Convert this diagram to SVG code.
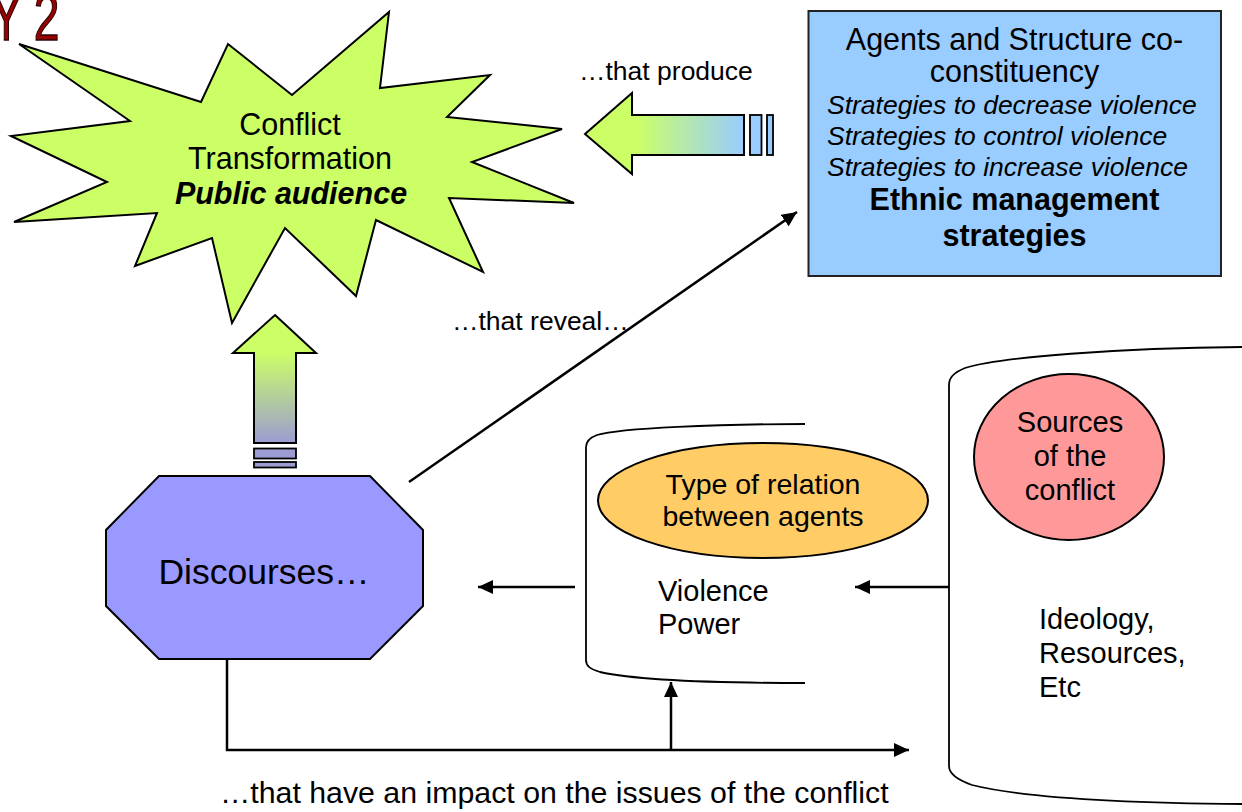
<svg xmlns="http://www.w3.org/2000/svg" width="1242" height="812" viewBox="0 0 1242 812">
<style>
  text { font-family: "Liberation Sans", Arial, sans-serif; fill: #000; }
  .shape { stroke: #000; stroke-width: 2; stroke-linejoin: miter; }
  .scroll { fill: none; stroke: #000; stroke-width: 1.8; }
  .conn { fill: none; stroke: #000; stroke-width: 2.5; }
  .t30 { font-size: 30.5px; }
  .t26 { font-size: 26.5px; }
  .t29 { font-size: 29px; }
  .mid { text-anchor: middle; }
</style>
<defs>
  <marker id="ah" viewBox="0 0 15 14" refX="15" refY="7" markerWidth="15" markerHeight="14" markerUnits="userSpaceOnUse" orient="auto">
    <path d="M0,0 L15,7 L0,14 z" fill="#000"/>
  </marker>
  <linearGradient id="gProduce" gradientUnits="userSpaceOnUse" x1="636" y1="0" x2="744" y2="0">
    <stop offset="0" stop-color="#CCFF66"/>
    <stop offset="1" stop-color="#99CCFF"/>
  </linearGradient>
  <linearGradient id="gUp" gradientUnits="userSpaceOnUse" x1="0" y1="352" x2="0" y2="443">
    <stop offset="0" stop-color="#CCFF66"/>
    <stop offset="1" stop-color="#9C9CD2"/>
  </linearGradient>
</defs>
<rect width="1242" height="812" fill="#fff"/>

<g id="title">
  <text transform="scale(0.7 1)" x="-13" y="40" style="font-size:66px;fill:#990000;stroke:#2a0000;stroke-width:1.4">Y 2</text>
</g>

<g id="conflict-transformation">
  <polygon class="shape" fill="#CCFF66" points="19,44 201,102 228,44 292,95 389,12 380,88 490,75 447,117 562,129 472,162 574,203 449,198 483,272 376,220 356,296 285,228 232,323 212,238 135,266 157,213 14,222 107,182 11,136 130,121"/>
  <text class="t30 mid" x="290" y="135">Conflict</text>
  <text class="t30 mid" x="290" y="169">Transformation</text>
  <text class="t30 mid" x="291" y="204" font-weight="bold" font-style="italic">Public audience</text>
</g>

<g id="ethnic-management">
  <rect x="808.5" y="11" width="412.5" height="265" fill="#99CCFF" stroke="#222" stroke-width="2"/>
  <text class="t30 mid" x="1014.5" y="49.5">Agents and Structure co-</text>
  <text class="t30 mid" x="1014.5" y="82">constituency</text>
  <text class="t26" x="827" y="113.5" font-style="italic">Strategies to decrease violence</text>
  <text class="t26" x="827" y="145" font-style="italic">Strategies to control violence</text>
  <text class="t26" x="827" y="176" font-style="italic">Strategies to increase violence</text>
  <text class="t30 mid" x="1014.5" y="210" font-weight="bold">Ethnic management</text>
  <text class="t30 mid" x="1014.5" y="246" font-weight="bold">strategies</text>
</g>

<g id="discourses">
  <polygon class="shape" fill="#9999FF" points="159,476 370,476 423,530 423,606 370,659 159,659 106,606 106,530"/>
  <text class="mid" x="264" y="584" style="font-size:35.5px">Discourses…</text>
</g>

<g id="relation-scroll">
  <path class="scroll" d="M805,424 C720,424 620,428 597,435 C589,438 586,442 586,447 L586,660 C586,666 590,669 600,672 C640,681 720,683 805,683"/>
  <text class="t29" x="658" y="601">Violence</text>
  <text class="t29" x="658" y="634">Power</text>
</g>

<g id="type-of-relation">
  <ellipse cx="763" cy="500.5" rx="165" ry="57.5" fill="#FFCC66" stroke="#000" stroke-width="2"/>
  <text class="mid" x="763" y="493.5" style="font-size:28.5px">Type of relation</text>
  <text class="mid" x="763" y="526" style="font-size:28.5px">between agents</text>
</g>

<g id="sources-scroll">
  <path class="scroll" d="M1242,347 C1120,348 1000,357 965,368 C953,373 949,378 949,385 L949,766 C949,773 955,779 972,785 C1020,797 1120,803 1242,804"/>
  <text class="t29" x="1039" y="629">Ideology,</text>
  <text class="t29" x="1039" y="663">Resources,</text>
  <text class="t29" x="1039" y="697">Etc</text>
</g>

<g id="sources-of-conflict">
  <ellipse cx="1069" cy="457" rx="95" ry="83" fill="#FF9999" stroke="#000" stroke-width="2"/>
  <text class="t29 mid" x="1070" y="432">Sources</text>
  <text class="t29 mid" x="1070" y="466">of the</text>
  <text class="t29 mid" x="1070" y="500">conflict</text>
</g>

<g id="labels">
  <text class="t26" x="579" y="80">…that produce</text>
  <text class="t26" x="452" y="330">…that reveal…</text>
  <text x="220" y="803" style="font-size:30.3px">…that have an impact on the issues of the conflict</text>
</g>

<g id="connectors">
  <polygon class="shape" stroke-width="2" fill="url(#gProduce)" points="585,134 632,93 632,115 744,115 744,155 632,155 632,174"/>
  <rect x="750" y="115" width="11.5" height="40" fill="#99CCFF" stroke="#000" stroke-width="1.8"/>
  <rect x="767" y="115" width="6" height="40" fill="#99CCFF" stroke="#000" stroke-width="1.8"/>
  <polygon class="shape" stroke-width="2" fill="url(#gUp)" points="275,315 316,353 296,353 296,443 254,443 254,353 233,353"/>
  <rect x="254" y="448.5" width="42" height="10" fill="#9C9CD2" stroke="#000" stroke-width="1.8"/>
  <rect x="254" y="462" width="42" height="5.5" fill="#9C9CD2" stroke="#000" stroke-width="1.8"/>
  <line class="conn" x1="409" y1="482" x2="797" y2="212" marker-end="url(#ah)"/>
  <line class="conn" x1="949" y1="587" x2="855" y2="587" marker-end="url(#ah)"/>
  <line class="conn" x1="575" y1="587" x2="478" y2="587" marker-end="url(#ah)"/>
  <path class="conn" d="M227,659 L227,750 L909,750" marker-end="url(#ah)"/>
  <line class="conn" x1="671" y1="750" x2="671" y2="682" marker-end="url(#ah)"/>
</g>
</svg>
